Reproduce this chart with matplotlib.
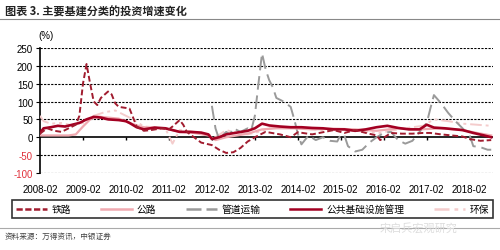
import numpy as np
import matplotlib
matplotlib.use("Agg")
import matplotlib.pyplot as plt
from matplotlib.lines import Line2D

plt.rcParams['font.family'] = ['Liberation Sans', 'Noto Sans CJK SC', 'DejaVu Sans']

# series data: (month, value %)
rail_m = ["2008-02","2008-04","2008-06","2008-08","2008-10","2008-12","2009-01","2009-02","2009-03","2009-04",
          "2009-05","2009-06","2009-07","2009-09","2009-10","2009-11","2009-12","2010-02","2010-03","2010-04",
          "2010-05","2010-07","2010-09","2010-12","2011-02","2011-03","2011-05","2011-06","2011-07","2011-09",
          "2011-11","2012-02","2012-04","2012-06","2012-08","2012-10","2012-12","2013-02","2013-05","2013-09",
          "2013-12","2014-02","2014-06","2014-12","2015-03","2015-06","2015-09","2015-12","2016-01","2016-04",
          "2016-07","2016-10","2017-01","2017-03","2017-06","2017-09","2017-12","2018-02","2018-05","2018-08"]
rail_v = [10,25,18,15,25,35,60,150,205,150,
          100,90,110,128,120,95,85,82,80,55,
          30,18,20,25,22,30,48,35,15,0,
          -15,-22,-35,-44,-42,-30,-12,0,15,8,
          0,14,8,20,12,20,12,5,-8,12,
          10,10,12,12,8,5,2,-5,-10,-8]

road_m = ["2008-02","2008-06","2008-10","2008-12","2009-02","2009-04","2009-06","2009-09","2009-12","2010-03",
          "2010-06","2010-09","2011-01","2011-05","2011-09","2012-01","2012-03","2012-06","2012-09","2012-12",
          "2013-04","2013-08","2014-01","2014-06","2014-12","2015-06","2015-12","2016-06","2016-12","2017-06",
          "2017-12","2018-04","2018-08"]
road_v = [5,5,5,8,30,50,58,55,52,40,
          30,25,25,15,12,5,-8,0,5,10,
          22,25,25,22,24,22,18,25,22,25,
          20,12,5]

pipe_m = ["2012-02","2012-03","2012-04","2012-06","2012-07","2012-08","2012-10","2012-12","2013-01","2013-02",
          "2013-03","2013-04","2013-05","2013-06","2013-07","2013-08","2013-10","2013-12","2014-01","2014-02",
          "2014-03","2014-05","2014-07","2014-09","2014-11","2015-01","2015-02","2015-03","2015-04","2015-06",
          "2015-08","2015-10","2015-12","2016-02","2016-04","2016-06","2016-08","2016-10","2016-12","2017-02",
          "2017-03","2017-04","2017-06","2017-08","2017-10","2017-12","2018-02","2018-03","2018-05","2018-07",
          "2018-08"]
pipe_v = [88,25,-5,15,8,25,15,25,20,60,
          150,235,190,160,140,110,100,85,50,10,
          -20,5,-8,0,-10,-12,8,5,-25,-40,
          -35,-15,0,12,15,-8,-18,-10,15,40,
          80,118,95,68,45,25,5,-25,-28,-35,
          -35]

pub_m = ["2008-02","2008-03","2008-05","2008-07","2008-09","2008-11","2009-01","2009-03","2009-05","2009-07",
         "2009-09","2009-12","2010-02","2010-03","2010-05","2010-07","2010-10","2011-01","2011-03","2011-05",
         "2011-08","2011-11","2012-01","2012-02","2012-04","2012-06","2012-09","2012-12","2013-02","2013-04",
         "2013-06","2013-09","2013-12","2014-03","2014-06","2014-09","2014-12","2015-03","2015-06","2015-09",
         "2015-12","2016-03","2016-06","2016-09","2016-12","2017-02","2017-04","2017-07","2017-10","2017-12",
         "2018-03","2018-06","2018-08"]
pub_v = [12,25,28,32,30,35,40,50,57,55,
         50,48,45,40,28,22,27,25,20,15,
         15,13,8,-5,0,8,13,18,25,38,
         33,30,28,28,26,25,22,22,18,22,
         28,32,26,22,22,35,27,25,22,20,
         12,5,0]

env_m = ["2008-02","2008-03","2008-05","2008-08","2008-11","2009-02","2009-05","2009-08","2009-11","2010-01",
         "2010-04","2010-07","2010-10","2011-01","2011-03","2011-05","2011-09","2012-01","2012-03","2012-06",
         "2012-09","2012-12","2013-03","2013-06","2013-10","2014-03","2014-09","2015-03","2015-09","2016-01",
         "2016-06","2016-10","2017-01","2017-04","2017-08","2017-12","2018-04","2018-08"]
env_v = [60,45,38,40,33,40,60,70,75,65,
         50,30,28,25,-18,20,15,8,0,20,
         12,8,15,25,28,25,20,22,15,12,
         22,28,32,50,45,38,35,32]

xlabels = ["2008-02","2009-02","2010-02","2011-02","2012-02","2013-02",
           "2014-02","2015-02","2016-02","2017-02","2018-02"]
yticks = [-100,-50,0,50,100,150,200,250]


def midx(ms):
    return np.array([(int(m[:4]) - 2008) * 12 + int(m[5:]) - 2 for m in ms])


fig = plt.figure(figsize=(5.0, 2.51), dpi=100)
ax = fig.add_axes([0.08, 0.307, 0.906, 0.498])

for y in yticks:
    if y != 0:
        ax.axhline(y, color='black', lw=0.8, ls=(0, (2, 1.2)), zorder=1)
ax.axhline(0, color='black', lw=1.2, zorder=2)

c_rail = '#a11c2f'
c_road = '#f0a9b0'
c_pipe = '#9a9a9a'
c_pub = '#a30022'
c_env = '#f4cccc'

ax.plot(midx(env_m), env_v, color=c_env, lw=1.4, ls=(0, (6, 2, 1.5, 2, 1.5, 2)), zorder=3)
ax.plot(midx(pipe_m), pipe_v, color=c_pipe, lw=1.4, ls=(0, (7, 3)), zorder=3)
ax.plot(midx(road_m), road_v, color=c_road, lw=1.6, zorder=4)
ax.plot(midx(pub_m), pub_v, color=c_pub, lw=1.9, zorder=5)
ax.plot(midx(rail_m), rail_v, color=c_rail, lw=1.4, ls=(0, (3, 1.5)), zorder=6)

xt = np.arange(len(xlabels)) * 12
ax.vlines(xt[1:], -7, 0, color='black', lw=1.0, zorder=2)
ax.set_xticks(xt)
ax.set_xticklabels(xlabels, fontsize=7)
ax.tick_params(axis='x', length=0, pad=8)
ax.set_xlim(0, 126.5)
ax.set_ylim(-100, 250)
ax.set_yticks(yticks)
ax.set_yticklabels([str(v) for v in yticks], fontsize=7)
ax.tick_params(axis='y', length=3, width=0.8, pad=2)
for lbl, v in zip(ax.get_yticklabels(), yticks):
    if v < 0:
        lbl.set_color('#e0303a')
for s in ['top', 'right', 'bottom']:
    ax.spines[s].set_visible(False)
ax.spines['left'].set_linewidth(1.2)

fig.text(0.076, 0.835, "(%)", fontsize=7, ha='left', va='bottom')

fig.text(0.01, 0.952, "图表 3. 主要基建分类的投资增速变化", fontsize=8, fontweight='bold',
         family=['Noto Sans CJK SC'], va='center', color='#222222')
fig.add_artist(Line2D([0, 1], [0.922, 0.922], color='#888888', lw=0.8))

handles = [
    Line2D([], [], color=c_rail, lw=1.8, ls=(0, (2.5, 1))),
    Line2D([], [], color=c_road, lw=1.8),
    Line2D([], [], color=c_pipe, lw=1.8, ls=(0, (6, 2))),
    Line2D([], [], color=c_pub, lw=1.8),
    Line2D([], [], color=c_env, lw=1.8, ls=(0, (6, 2, 1.5, 2))),
]
names = ["铁路", "公路", "管道运输", "公共基础设施管理", "环保"]
leg = fig.legend(handles, names, loc='center', ncol=5, mode='expand',
                 bbox_to_anchor=(0.024, 1 - 222 / 251, 0.962, 24 / 251),
                 prop={'family': ['Noto Sans CJK SC'], 'size': 7},
                 handlelength=3.2, handletextpad=0.5, columnspacing=1.5,
                 borderpad=0.4, frameon=True, fancybox=False, borderaxespad=0)
leg.get_frame().set_edgecolor('black')
leg.get_frame().set_linewidth(1.2)

fig.add_artist(Line2D([0, 1], [1 - 229 / 251, 1 - 229 / 251], color='#aaaaaa', lw=0.8))
fig.text(0.01, 1 - 237 / 251, "资料来源：万得资讯，中银证券", fontsize=5.5,
         family=['Noto Sans CJK SC'], va='center', color='#444444')
fig.text(0.76, 1 - 228 / 251, "宋启兵宏观研究", fontsize=8, family=['Noto Sans CJK SC'],
         va='center', color='#dddddd')

fig.savefig("out.png", dpi=100)
